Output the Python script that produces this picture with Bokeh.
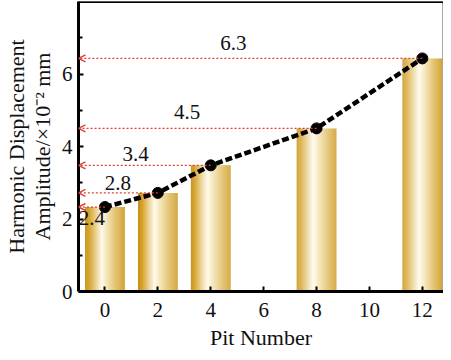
import numpy as np
from bokeh.plotting import figure
from bokeh.models import (ColumnDataSource, FixedTicker, Range1d, Span, Arrow,
                          OpenHead)
from bokeh.core.properties import value
from bokeh.embed import file_html
from bokeh.resources import INLINE

# ---- data ----
pits = [0, 2, 4, 8, 12]
amplitude = [2.33, 2.72, 3.48, 4.50, 6.43]
amp_labels = ["2.4", "2.8", "3.4", "4.5", "6.3"]
x_ticks = [0, 2, 4, 6, 8, 10, 12]
y_ticks = [0, 2, 4, 6]
y_minor = [1, 3, 5, 7]

# label placement (annotation positions, data coordinates)
label_x = [-0.49, 0.49, 1.16, 3.11, 4.86]
label_y = [2.02, 3.00, 3.79, 4.94, 6.85]

FONT = "Liberation Serif"

p = figure(width=443, height=352, output_backend="svg", toolbar_location=None,
           x_range=Range1d(-1.0, 12.8), y_range=Range1d(0, 8.0),
           min_border_left=72, min_border_right=0, min_border_top=1,
           min_border_bottom=0)
p.background_fill_color = "white"
p.border_fill_color = "white"
p.grid.visible = False
p.outline_line_color = "#aaaaaa"
p.outline_line_width = 1

# gradient bars built from thin strips
bar_w = 1.5
n_strips = 40
stops = np.array([0.0, 0.10, 0.42, 0.55, 0.80, 1.0])
cols = np.array([[198, 144, 20], [212, 162, 40], [255, 250, 236],
                 [245, 228, 180], [222, 184, 90], [204, 152, 32]])
xs, tops, colors, widths = [], [], [], []
for c, v in zip(pits, amplitude):
    for i in range(n_strips):
        f = (i + 0.5) / n_strips
        rgb = [int(round(np.interp(f, stops, cols[:, k]))) for k in range(3)]
        xs.append(c - bar_w / 2 + f * bar_w)
        tops.append(v)
        colors.append("#%02x%02x%02x" % tuple(rgb))
        widths.append(bar_w / n_strips * 1.08)
p.vbar(x=xs, top=tops, width=widths, bottom=0, fill_color=colors,
       line_color=None)

# red dotted arrows from points to y axis
for xv, yv in zip(pits, amplitude):
    p.add_layout(Arrow(x_start=xv, y_start=yv, x_end=-1.0, y_end=yv,
                       line_color="#e0403a", line_width=1.2, line_dash="2 2",
                       end=OpenHead(size=7, line_color="#e0403a", line_width=1.5)))

# dashed line with markers
p.line(pits, amplitude, line_color="black", line_width=4.5, line_dash="7 3")
p.scatter(pits, amplitude, size=11, fill_color="black", line_color="black")

# value labels
src = ColumnDataSource(dict(x=label_x, y=label_y, t=amp_labels))
p.text(x="x", y="y", text="t", source=src, text_font=value(FONT),
       text_font_size="21px", text_align="center", text_baseline="middle",
       text_color="#111111")

# top border
p.add_layout(Span(location=8.0, dimension="width", line_color="black",
                  line_width=3))

# axes
p.xaxis.ticker = FixedTicker(ticks=x_ticks)
p.yaxis.ticker = FixedTicker(ticks=y_ticks, minor_ticks=y_minor)
for ax in (p.xaxis[0], p.yaxis[0]):
    ax.axis_line_width = 3
    ax.axis_line_color = "black"
    ax.major_tick_in = 5
    ax.major_tick_out = 0
    ax.major_tick_line_width = 2
    ax.minor_tick_in = 4
    ax.minor_tick_out = 0
    ax.minor_tick_line_width = 2
    ax.major_label_text_font = FONT
    ax.major_label_text_font_size = "21px"
    ax.major_label_text_color = "#111111"
    ax.axis_label_text_font = FONT
    ax.axis_label_text_font_size = "22px"
    ax.axis_label_text_font_style = "normal"
    ax.axis_label_text_color = "#111111"
p.yaxis.axis_label_text_line_height = 1.05
p.xaxis.minor_tick_line_color = None
p.xaxis.major_label_standoff = 11
p.xaxis.axis_label_standoff = 5
p.yaxis.major_label_standoff = 6
p.yaxis.axis_label_standoff = 4
p.xaxis.axis_label = "Pit Number"
p.yaxis.axis_label = "Harmonic Displacement\nAmplitude/\u00d710\u207b\u00b2 mm"

open("out.html", "w").write(file_html(p, INLINE))
